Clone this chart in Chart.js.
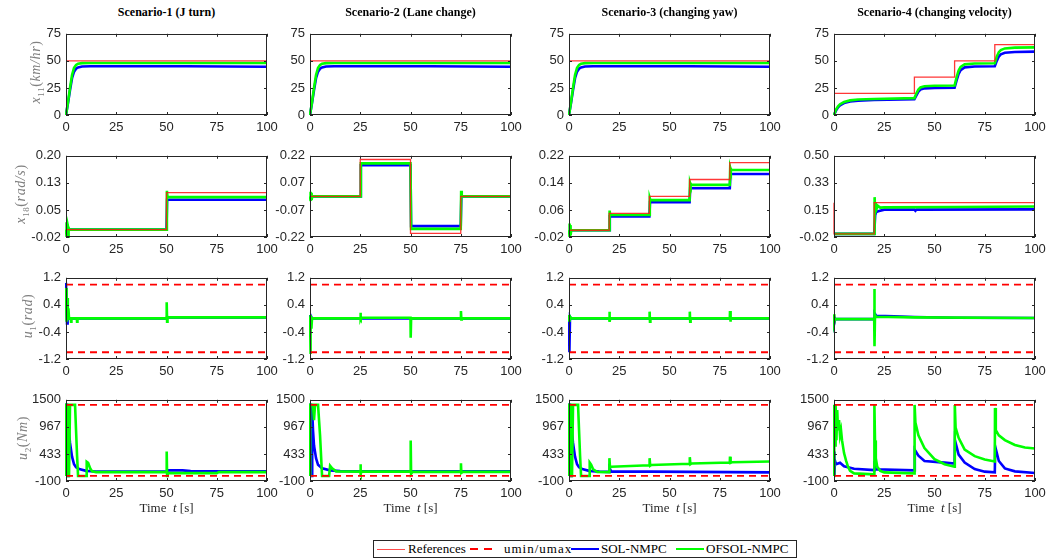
<!DOCTYPE html>
<html>
<head>
<meta charset="utf-8">
<script src="https://cdn.jsdelivr.net/npm/chart.js@4.4.0/dist/chart.umd.min.js"></script>
<style>
body { margin: 0; background: #fff; }
#wrap { position: relative; width: 1057px; height: 558px; overflow: hidden; }
canvas { position: absolute; }
.title { position: absolute; top: 5px; transform: translateX(-50%); white-space: nowrap;
         font: bold 12px 'Liberation Serif'; color: #000; }
.ylab { position: absolute; transform: translate(-50%, -50%) rotate(-90deg); white-space: nowrap;
        font: italic 14px 'Liberation Serif'; color: #808080; letter-spacing: 0.6px; }
.ylab span { font-style: normal; }
.ylab sub { font-size: 9px; font-style: normal; }
.xlab { position: absolute; top: 500px; transform: translateX(-50%); white-space: nowrap;
        font: 13px 'Liberation Serif'; color: #262626; }
#legend { position: absolute; left: 373px; top: 540px; width: 422px; height: 16px;
          border: 1px solid #262626; font: 13px 'Liberation Serif'; color: #000; }
#legend div { position: absolute; }
</style>
</head>
<body>
<div id="wrap"></div>
<script>
// ---- labels ----
var scenarios = ['Scenario-1 (J turn)', 'Scenario-2 (Lane change)', 'Scenario-3 (changing yaw)', 'Scenario-4 (changing velocity)'];
var seriesNames = ['References', 'umin/umax', 'SOL-NMPC', 'OFSOL-NMPC'];
var timeTicks = [0, 25, 50, 75, 100];

// ---- row 1 : x11 (km/hr) ----
var velTicks = ['0', '25', '50', '75'];
var velRef = [[0, 50], [100, 50]];
var velSol = [[0, 0], [1, 11], [2, 23], [3, 34], [4, 40], [5, 42.8], [6, 44], [8, 44.8], [12, 45], [60, 45], [100, 44.6]];
var velOf = [[0, 0], [1, 12], [2, 25], [3, 37], [4, 43.5], [5, 46.2], [6, 47.3], [8, 47.9], [12, 48], [100, 48]];
var velRef4 = [[0, 20], [40, 20], [40, 35], [60, 35], [60, 50], [80, 50], [80, 65], [100, 65]];
var velSol4 = [[0, 0], [1, 4], [2, 7], [3, 9], [5, 11], [8, 12.5], [12, 13.2], [20, 13.8], [40, 14.5], [41, 18], [42, 21.5], [43, 23.5], [45, 24.6], [50, 25], [60, 25.2],
    [61, 32], [62, 38], [63, 41.5], [65, 44], [70, 44.8], [80, 45], [81, 50], [82, 54], [83, 56], [85, 57.5], [90, 58.2], [100, 58.5]];
var velOf4 = [[0, 0], [1, 5], [2, 8], [3, 10], [5, 12], [8, 13.5], [12, 14.3], [20, 14.8], [40, 15.6], [41, 20], [42, 23.5], [43, 25.5], [45, 26.6], [50, 27], [60, 27.3],
    [61, 35], [62, 41], [63, 44.5], [65, 46.8], [70, 47.5], [80, 47.8], [81, 54], [82, 58], [83, 60], [85, 61.5], [90, 62.2], [100, 62.5]];

// ---- row 2 : x18 (rad/s) ----
var yawLims = [[-0.02, 0.20], [-0.22, 0.22], [-0.02, 0.22], [-0.02, 0.50]];
var yawTicks = [['-0.02', '0.05', '0.13', '0.20'], ['-0.22', '-0.07', '0.07', '0.22'], ['-0.02', '0.06', '0.14', '0.22'], ['-0.02', '0.15', '0.33', '0.50']];
var yawRef1 = [[0, 0], [50, 0], [50, 0.1], [100, 0.1]];
var yawSol1 = [[0, 0], [50, 0], [50.3, 0.081], [100, 0.081]];
var yawOf1 = [[0, 0], [0.2, 0.02], [0.4, -0.02], [0.6, 0.015], [0.8, -0.02], [1, 0.008], [1.3, 0], [50, 0], [50.2, 0.105], [50.5, 0.088], [100, 0.088]];
var yawRef2 = [[0, 0], [25, 0], [25, 0.2], [50, 0.2], [50, -0.2], [75, -0.2], [75, 0], [100, 0]];
var yawSol2 = [[0, 0], [25, 0], [25.3, 0.169], [50, 0.169], [50.3, -0.161], [75, -0.161], [75.3, 0], [100, 0]];
var yawOf2 = [[0, 0], [0.2, 0.025], [0.4, -0.025], [0.6, 0.02], [0.8, -0.02], [1.1, 0], [25, 0], [25.3, 0.179], [50, 0.179], [50.3, -0.176], [75, -0.176], [75.2, 0.03], [75.5, 0], [100, 0]];
var yawRef3 = [[0, 0], [20, 0], [20, 0.05], [40, 0.05], [40, 0.1], [60, 0.1], [60, 0.15], [80, 0.15], [80, 0.2], [100, 0.2]];
var yawSol3 = [[0, 0], [20, 0], [20.3, 0.041], [40, 0.041], [40.3, 0.083], [60, 0.083], [60.3, 0.124], [80, 0.124], [80.3, 0.166], [100, 0.166]];
var yawOf3 = [[0, 0], [0.2, 0.02], [0.4, -0.02], [0.6, 0.015], [0.8, -0.015], [1.1, 0], [20, 0], [20.2, 0.058], [20.5, 0.045], [40, 0.045], [40.2, 0.095], [40.5, 0.089],
    [60, 0.089], [60.2, 0.14], [60.5, 0.134], [80, 0.134], [80.2, 0.185], [80.5, 0.178], [100, 0.178]];
var yawRef4 = [[0, 0.2], [0, 0], [20, 0], [20, 0.2], [100, 0.2]];
var yawSol4 = [[0, 0], [20, 0], [20.5, 0.12], [21, 0.14], [22, 0.145], [25, 0.155], [40, 0.155], [40.5, 0.148], [41, 0.155], [100, 0.157]];
var yawOf4 = [[0, 0], [20, 0], [20.2, 0.235], [20.5, 0.15], [20.8, 0.2], [21.2, 0.16], [21.8, 0.18], [23, 0.168], [25, 0.17], [60, 0.172], [100, 0.175]];

// ---- row 3 : u1 (rad) ----
var steerTicks = ['-1.2', '-0.4', '0.4', '1.2'];
var steerLim = [1, -1];
var steerSol1 = [[0, 1.05], [0.3, 1.05], [0.5, -0.15], [0.8, 0.05], [1.2, 0], [50, 0], [50.3, 0.05], [51, 0.03], [100, 0.03]];
var steerOf1 = [[0, 0.9], [0.3, -0.1], [0.6, 0.6], [0.9, -0.05], [1.2, 0.3], [1.5, 0], [2.4, 0], [2.5, -0.1], [2.7, 0], [5.4, 0], [5.5, -0.1], [5.7, 0],
    [50, 0], [50.1, 0.48], [50.3, -0.1], [50.5, 0.03], [100, 0.03]];
var steerSol2 = [[0, 0.1], [0.3, -0.2], [0.6, 0.05], [1, 0], [100, 0]];
var steerOf2 = [[0, 0.05], [0.2, -1.05], [0.4, 0.1], [0.7, -0.3], [1, 0], [25, 0], [25.1, 0.17], [25.3, -0.02], [25.5, 0.02], [50, 0.02], [50.1, -0.57], [50.3, 0],
    [75, 0], [75.1, 0.22], [75.3, -0.03], [75.5, 0], [100, 0]];
var steerSol3 = [[0, 0.1], [0.2, -1.0], [0.5, 0.05], [1, 0], [100, 0]];
var steerOf3 = [[0, 0.1], [0.2, -0.1], [0.5, 0.05], [1, 0], [20, 0], [20.1, 0.2], [20.3, -0.1], [20.5, 0], [40, 0], [40.1, 0.2], [40.3, -0.1], [40.5, 0],
    [60, 0], [60.1, 0.2], [60.3, -0.1], [60.5, 0], [80, 0], [80.1, 0.22], [80.3, -0.1], [80.5, 0], [100, 0]];
var steerSol4 = [[0, 0.05], [0.3, -0.1], [0.6, -0.02], [20, -0.02], [20.2, 0.15], [21, 0.08], [30, 0.06], [40, 0.04], [60, 0.02], [100, 0.01]];
var steerOf4 = [[0, 0.12], [0.2, -0.1], [0.5, -0.02], [20, -0.02], [20.1, 0.87], [20.2, -0.82], [20.4, 0.1], [21, 0.05], [40, 0.03], [100, 0.01]];

// ---- row 4 : u2 (Nm) ----
var torqueTicks = ['-100', '433', '967', '1500'];
var torqueLim = [1400, 0];
var torqueSol1 = [[0, 0], [0.2, 1400], [0.5, 1400], [0.7, 0], [1, 0], [1.1, 1400], [1.4, 950], [2, 650], [3, 380], [4, 230], [5, 170], [7, 130], [10, 100], [15, 88],
    [50, 88], [51, 110], [58, 110], [62, 95], [100, 90]];
var torqueOf1 = [[0, 0], [0.1, 1400], [0.8, 1400], [1, 0], [1.5, 0], [2, 1400], [4.5, 1400], [5, 900], [5.5, 400], [6, 0], [10, 0], [10.3, 280], [11, 260], [12, 150],
    [13, 90], [15, 75], [50, 75], [50.1, 480], [50.3, 0], [50.6, 60], [75, 55], [76, 75], [100, 75]];
var torqueSol2 = [[0, 0], [0.2, 1400], [0.5, 1400], [0.7, 0], [1, 0], [1.1, 1300], [1.5, 900], [2, 600], [3, 350], [4, 220], [6, 150], [10, 110], [15, 95], [100, 90]];
var torqueOf2 = [[0, 0], [0.1, 1400], [1.5, 1400], [2, 1100], [2.5, 1400], [4, 1400], [5, 800], [6, 0], [9.5, 0], [10, 200], [11, 150], [13, 90], [25, 85],
    [25.1, 230], [25.3, 60], [26, 85], [50, 85], [50.1, 700], [50.3, 40], [51, 80], [75, 80], [75.1, 250], [75.3, 60], [76, 80], [100, 80]];
var torqueSol3 = [[0, 0], [0.2, 1400], [0.5, 1400], [0.7, 0], [1, 0], [1.1, 1400], [1.4, 950], [2, 650], [3, 380], [4, 230], [5, 170], [7, 130], [10, 100], [15, 85],
    [20, 80], [20.2, 150], [21, 90], [100, 70]];
var torqueOf3 = [[0, 0], [0.1, 1400], [0.8, 1400], [1, 0], [1.5, 0], [2, 1400], [4.5, 1400], [5, 900], [5.5, 400], [6, 0], [10, 0], [10.3, 260], [11, 220], [12, 130],
    [14, 80], [20, 75], [20.1, 350], [20.4, 170], [21, 180], [40, 210], [40.1, 350], [40.4, 200], [41, 215], [60, 240], [60.1, 370], [60.4, 230], [61, 245],
    [80, 265], [80.1, 380], [80.4, 260], [81, 270], [100, 285]];
var torqueSol4 = [[0, 480], [0.2, 0], [0.5, 300], [1, 230], [3, 260], [5, 190], [10, 140], [20, 115], [20.2, 300], [20.6, 130], [40, 110], [40.2, 516], [42, 400],
    [45, 294], [55, 262], [60, 245], [60.2, 700], [62, 420], [65, 262], [70, 135], [75, 84], [80, 71], [80.2, 580], [82, 294], [85, 148], [90, 90], [100, 59]];
var torqueOf4 = [[0, 0], [0.1, 1400], [0.5, 600], [0.8, 1400], [1.2, 700], [1.6, 1300], [2, 900], [2.5, 1100], [3, 800], [3.5, 900], [4, 700], [5, 450], [6, 300],
    [7, 180], [8, 100], [10, 50], [20, 30], [20.1, 1400], [20.4, 700], [20.8, 350], [21.5, 180], [23, 100], [25, 70], [40, 50], [40.1, 1400], [40.5, 1050],
    [42, 800], [45, 550], [50, 330], [55, 230], [60, 180], [60.1, 1400], [60.5, 950], [62, 750], [65, 520], [70, 390], [75, 325], [80, 285], [80.1, 1340],
    [80.5, 900], [82, 800], [85, 706], [90, 611], [95, 560], [100, 540]];

// ---- layout ----
var colLeft = [66, 310, 569, 834];
var rowTop = [29, 151, 273, 395];
var yLabelX = [37, 22, 29, 24];
var plotW = 201, plotH = 86;
var padL = 50, padT = 8, padR = 18, padB = 24;

var wrap = document.getElementById('wrap');
Chart.defaults.font.family = 'Liberation Sans';

function pts(arr) {
    return arr.map(function (p) { return { x: p[0], y: p[1] }; });
}

function line(data, color, width, order, dash) {
    return {
        data: pts(data),
        borderColor: color,
        borderWidth: width,
        borderDash: dash || [],
        pointRadius: 0,
        fill: false,
        tension: 0,
        order: order,
        clip: 1
    };
}

// box and inward tick marks like the original figure
var boxTicks = {
    id: 'boxTicks',
    afterDatasetsDraw: function (chart) {
        var ctx = chart.ctx, a = chart.chartArea;
        var xs = chart.scales.x, ys = chart.scales.y;
        ctx.save();
        ctx.strokeStyle = '#262626';
        ctx.lineWidth = 1;
        ctx.beginPath();
        xs.ticks.forEach(function (t) {
            var p = Math.round(xs.getPixelForValue(t.value)) + 0.5;
            ctx.moveTo(p, a.bottom); ctx.lineTo(p, a.bottom - 3);
            ctx.moveTo(p, a.top); ctx.lineTo(p, a.top + 3);
        });
        ys.ticks.forEach(function (t) {
            var p = Math.round(ys.getPixelForValue(t.value)) + 0.5;
            ctx.moveTo(a.left, p); ctx.lineTo(a.left + 3, p);
            ctx.moveTo(a.right, p); ctx.lineTo(a.right - 3, p);
        });
        ctx.stroke();
        ctx.strokeRect(Math.round(a.left) + 0.5, Math.round(a.top) + 0.5, Math.round(a.right - a.left) - 1, Math.round(a.bottom - a.top) - 1);
        ctx.restore();
    }
};

function makePanel(r, c, lims, labels, datasets) {
    var cv = document.createElement('canvas');
    cv.width = plotW + padL + padR;
    cv.height = plotH + padT + padB;
    cv.style.left = (colLeft[c] - padL) + 'px';
    cv.style.top = (rowTop[r] - padT) + 'px';
    wrap.appendChild(cv);

    var step = (lims[1] - lims[0]) / 3;
    var yVals = [0, 1, 2, 3].map(function (i) { return lims[0] + i * step; });
    var tickFont = { family: 'Liberation Sans', size: 13 };

    new Chart(cv, {
        type: 'line',
        data: { datasets: datasets },
        options: {
            responsive: false,
            animation: false,
            layout: { padding: { left: 0, top: padT, right: padR, bottom: 0 } },
            plugins: { legend: { display: false }, tooltip: { enabled: false } },
            scales: {
                x: {
                    type: 'linear', min: 0, max: 100,
                    grid: { display: false, drawTicks: false },
                    border: { display: false },
                    afterBuildTicks: function (s) { s.ticks = timeTicks.map(function (v) { return { value: v }; }); },
                    afterFit: function (s) { s.height = padB; },
                    ticks: { font: tickFont, color: '#262626', padding: 5, maxRotation: 0, autoSkip: false,
                             callback: function (v) { return String(v); } }
                },
                y: {
                    type: 'linear', min: lims[0], max: lims[1],
                    grid: { display: false, drawTicks: false },
                    border: { display: false },
                    afterBuildTicks: function (s) { s.ticks = yVals.map(function (v) { return { value: v }; }); },
                    afterFit: function (s) { s.width = padL; },
                    ticks: { font: tickFont, color: '#262626', padding: 5, autoSkip: false,
                             callback: function (v, i) { return labels[i]; } }
                }
            }
        },
        plugins: [boxTicks]
    });
}

var RED = 'rgba(255, 20, 20, 0.85)', BLUE = '#0000ff', GREEN = '#00ff00';

function trackSets(ref, sol, of) {
    return [line(ref, RED, 1.3, 0), line(of, GREEN, 2.6, 1), line(sol, BLUE, 2.6, 2)];
}
function inputSets(lim, sol, of) {
    return [
        line([[0, lim[0]], [100, lim[0]]], '#ff0000', 1.8, 0, [7, 5]),
        line([[0, lim[1]], [100, lim[1]]], '#ff0000', 1.8, 0, [7, 5]),
        line(of, GREEN, 2.6, 1),
        line(sol, BLUE, 2.6, 2)
    ];
}

// row 1
makePanel(0, 0, [0, 75], velTicks, trackSets(velRef, velSol, velOf));
makePanel(0, 1, [0, 75], velTicks, trackSets(velRef, velSol, velOf));
makePanel(0, 2, [0, 75], velTicks, trackSets(velRef, velSol, velOf));
makePanel(0, 3, [0, 75], velTicks, trackSets(velRef4, velSol4, velOf4));
// row 2
makePanel(1, 0, yawLims[0], yawTicks[0], trackSets(yawRef1, yawSol1, yawOf1));
makePanel(1, 1, yawLims[1], yawTicks[1], trackSets(yawRef2, yawSol2, yawOf2));
makePanel(1, 2, yawLims[2], yawTicks[2], trackSets(yawRef3, yawSol3, yawOf3));
makePanel(1, 3, yawLims[3], yawTicks[3], trackSets(yawRef4, yawSol4, yawOf4));
// row 3
makePanel(2, 0, [-1.2, 1.2], steerTicks, inputSets(steerLim, steerSol1, steerOf1));
makePanel(2, 1, [-1.2, 1.2], steerTicks, inputSets(steerLim, steerSol2, steerOf2));
makePanel(2, 2, [-1.2, 1.2], steerTicks, inputSets(steerLim, steerSol3, steerOf3));
makePanel(2, 3, [-1.2, 1.2], steerTicks, inputSets(steerLim, steerSol4, steerOf4));
// row 4
makePanel(3, 0, [-100, 1500], torqueTicks, inputSets(torqueLim, torqueSol1, torqueOf1));
makePanel(3, 1, [-100, 1500], torqueTicks, inputSets(torqueLim, torqueSol2, torqueOf2));
makePanel(3, 2, [-100, 1500], torqueTicks, inputSets(torqueLim, torqueSol3, torqueOf3));
makePanel(3, 3, [-100, 1500], torqueTicks, inputSets(torqueLim, torqueSol4, torqueOf4));

// titles, axis labels
var html = '';
scenarios.forEach(function (s, c) {
    html += '<div class="title" style="left:' + (colLeft[c] + plotW / 2) + 'px">' + s + '</div>';
    html += '<div class="xlab" style="left:' + (colLeft[c] + plotW / 2) + 'px">Time&nbsp; <i>t</i> [s]</div>';
});
var yLabels = ['x<sub>11</sub><span>(</span>km/hr<span>)</span>', 'x<sub>18</sub><span>(</span>rad/s<span>)</span>',
               'u<sub>1</sub><span>(</span>rad<span>)</span>', 'u<sub>2</sub><span>(</span>Nm<span>)</span>'];
yLabels.forEach(function (l, r) {
    html += '<div class="ylab" style="left:' + yLabelX[r] + 'px;top:' + (rowTop[r] + plotH / 2) + 'px">' + l + '</div>';
});

// legend
html += '<div id="legend">' +
    '<div style="left:3px;top:8px;width:28px;height:1px;background:#ff4a4a"></div>' +
    '<div style="left:34px;top:0px">' + seriesNames[0] + '</div>' +
    '<div style="left:96px;top:7px;width:8px;height:2px;background:#f00"></div>' +
    '<div style="left:110px;top:7px;width:8px;height:2px;background:#f00"></div>' +
    '<div style="left:130px;top:0px;letter-spacing:1px">' + seriesNames[1] + '</div>' +
    '<div style="left:197px;top:7px;width:28px;height:2px;background:' + BLUE + '"></div>' +
    '<div style="left:227px;top:0px">' + seriesNames[2] + '</div>' +
    '<div style="left:302px;top:7px;width:28px;height:2px;background:' + GREEN + '"></div>' +
    '<div style="left:332px;top:0px">' + seriesNames[3] + '</div>' +
    '</div>';
wrap.insertAdjacentHTML('beforeend', html);
</script>
</body>
</html>
